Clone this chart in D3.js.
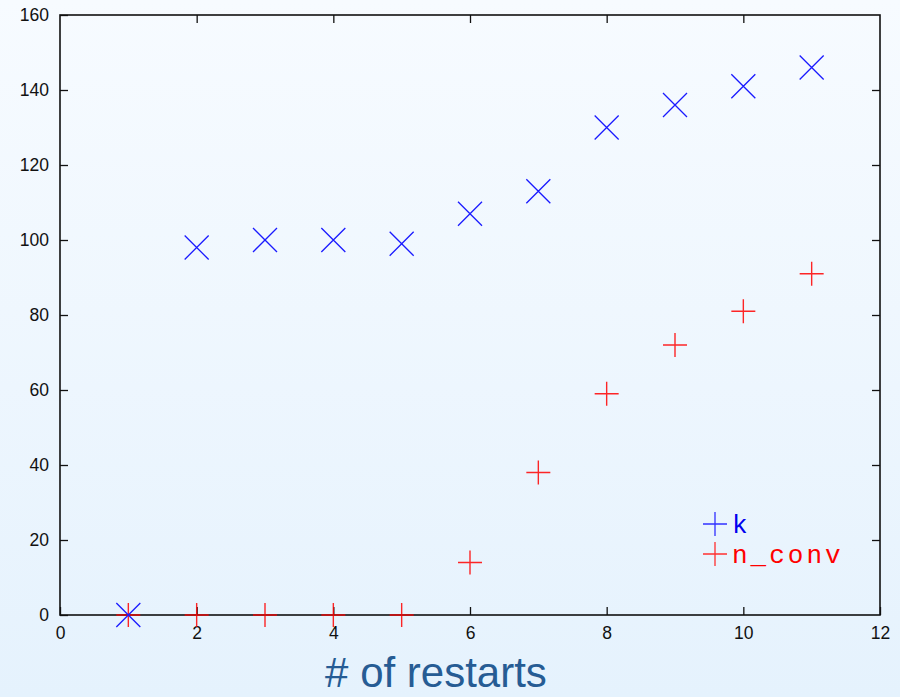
<!DOCTYPE html>
<html>
<head>
<meta charset="utf-8">
<script src="https://cdn.jsdelivr.net/npm/d3@7"></script>
<style>
  html, body { margin: 0; padding: 0; }
  body { width: 900px; height: 697px; overflow: hidden; }
  .tick text { font-family: "Liberation Sans", Arial, sans-serif; font-size: 17.5px; fill: #111; }
  .tick line { stroke: #111; stroke-width: 1.3; }
</style>
</head>
<body>
<div id="chart"></div>
<script>
const restarts = [1, 2, 3, 4, 5, 6, 7, 8, 9, 10, 11];
const kValues = [0, 98, 100, 100, 99, 107, 113, 130, 136, 141, 146];
const nConvValues = [0, 0, 0, 0, 0, 14, 38, 59, 72, 81, 91];
const seriesNames = ["k", "n_conv"];
const xTicks = [0, 2, 4, 6, 8, 10, 12];
const yTicks = [0, 20, 40, 60, 80, 100, 120, 140, 160];

const W = 900, H = 697;
const plotLeft = 60, plotRight = 880, plotTop = 15, plotBottom = 615;

const svg = d3.select("#chart").append("svg")
  .attr("width", W).attr("height", H);

const defs = svg.append("defs");
const grad = defs.append("linearGradient").attr("id", "bg")
  .attr("x1", 0).attr("y1", 0).attr("x2", 0).attr("y2", 1);
grad.append("stop").attr("offset", "0%").attr("stop-color", "#f7fbff");
grad.append("stop").attr("offset", "100%").attr("stop-color", "#e5f2fd");

svg.append("rect").attr("width", W).attr("height", H).attr("fill", "url(#bg)");

const x = d3.scaleLinear().domain([0, 12]).range([plotLeft, plotRight]);
const y = d3.scaleLinear().domain([0, 160]).range([plotBottom, plotTop]);

// axes with inward ticks
svg.append("g").attr("transform", `translate(${plotLeft},0)`)
  .call(d3.axisLeft(y).tickValues(yTicks).tickSize(-8).tickPadding(11))
  .call(g => g.select(".domain").remove());
svg.append("g").attr("transform", `translate(${plotRight},0)`)
  .call(d3.axisRight(y).tickValues(yTicks.slice(1, -1)).tickSize(-8).tickFormat(""))
  .call(g => g.select(".domain").remove());
svg.append("g").attr("transform", `translate(0,${plotBottom})`)
  .call(d3.axisBottom(x).tickValues(xTicks).tickSize(-8).tickPadding(12))
  .call(g => g.select(".domain").remove());
svg.append("g").attr("transform", `translate(0,${plotTop})`)
  .call(d3.axisTop(x).tickValues(xTicks.slice(1, -1)).tickSize(-8).tickFormat(""))
  .call(g => g.select(".domain").remove());

svg.append("rect")
  .attr("x", plotLeft).attr("y", plotTop)
  .attr("width", plotRight - plotLeft).attr("height", plotBottom - plotTop)
  .attr("fill", "none").attr("stroke", "#111").attr("stroke-width", 1.6);

const s = 12;
const crossPath = (cx, cy) => `M${cx - s},${cy - s}L${cx + s},${cy + s}M${cx - s},${cy + s}L${cx + s},${cy - s}`;
const plusPath = (cx, cy) => `M${cx - s},${cy}L${cx + s},${cy}M${cx},${cy - s}L${cx},${cy + s}`;

const kData = restarts.map((r, i) => [r, kValues[i]]);
const nData = restarts.map((r, i) => [r, nConvValues[i]]);

svg.append("g").selectAll("path").data(nData).join("path")
  .attr("d", d => plusPath(x(d[0]), y(d[1])))
  .attr("stroke", "#ff0000").attr("stroke-opacity", 0.85).attr("stroke-width", 1.4).attr("fill", "none");

svg.append("g").selectAll("path").data(kData).join("path")
  .attr("d", d => crossPath(x(d[0]), y(d[1])))
  .attr("stroke", "#1a1aff").attr("stroke-width", 1.3).attr("fill", "none");

// legend
const legendColors = ["#3030ff", "#ff3030"];
const leg = svg.append("g");
seriesNames.forEach((name, i) => {
  const ly = 524 + i * 30;
  leg.append("path").attr("d", plusPath(715, ly))
    .attr("stroke", legendColors[i]).attr("stroke-width", 1.3).attr("fill", "none");
  leg.append("text").attr("x", 732).attr("y", ly + 9)
    .attr("font-family", "'Liberation Mono', 'DejaVu Sans Mono', monospace")
    .attr("font-size", 26)
    .attr("letter-spacing", 3)
    .attr("fill", i === 0 ? "#0000ee" : "#ff0000")
    .text(name);
});

svg.append("text")
  .attr("x", 436).attr("y", 687)
  .attr("text-anchor", "middle")
  .attr("font-family", "'Liberation Sans', Arial, sans-serif")
  .attr("font-size", 42)
  .attr("fill", "#265c94")
  .text("# of restarts");
</script>
</body>
</html>
